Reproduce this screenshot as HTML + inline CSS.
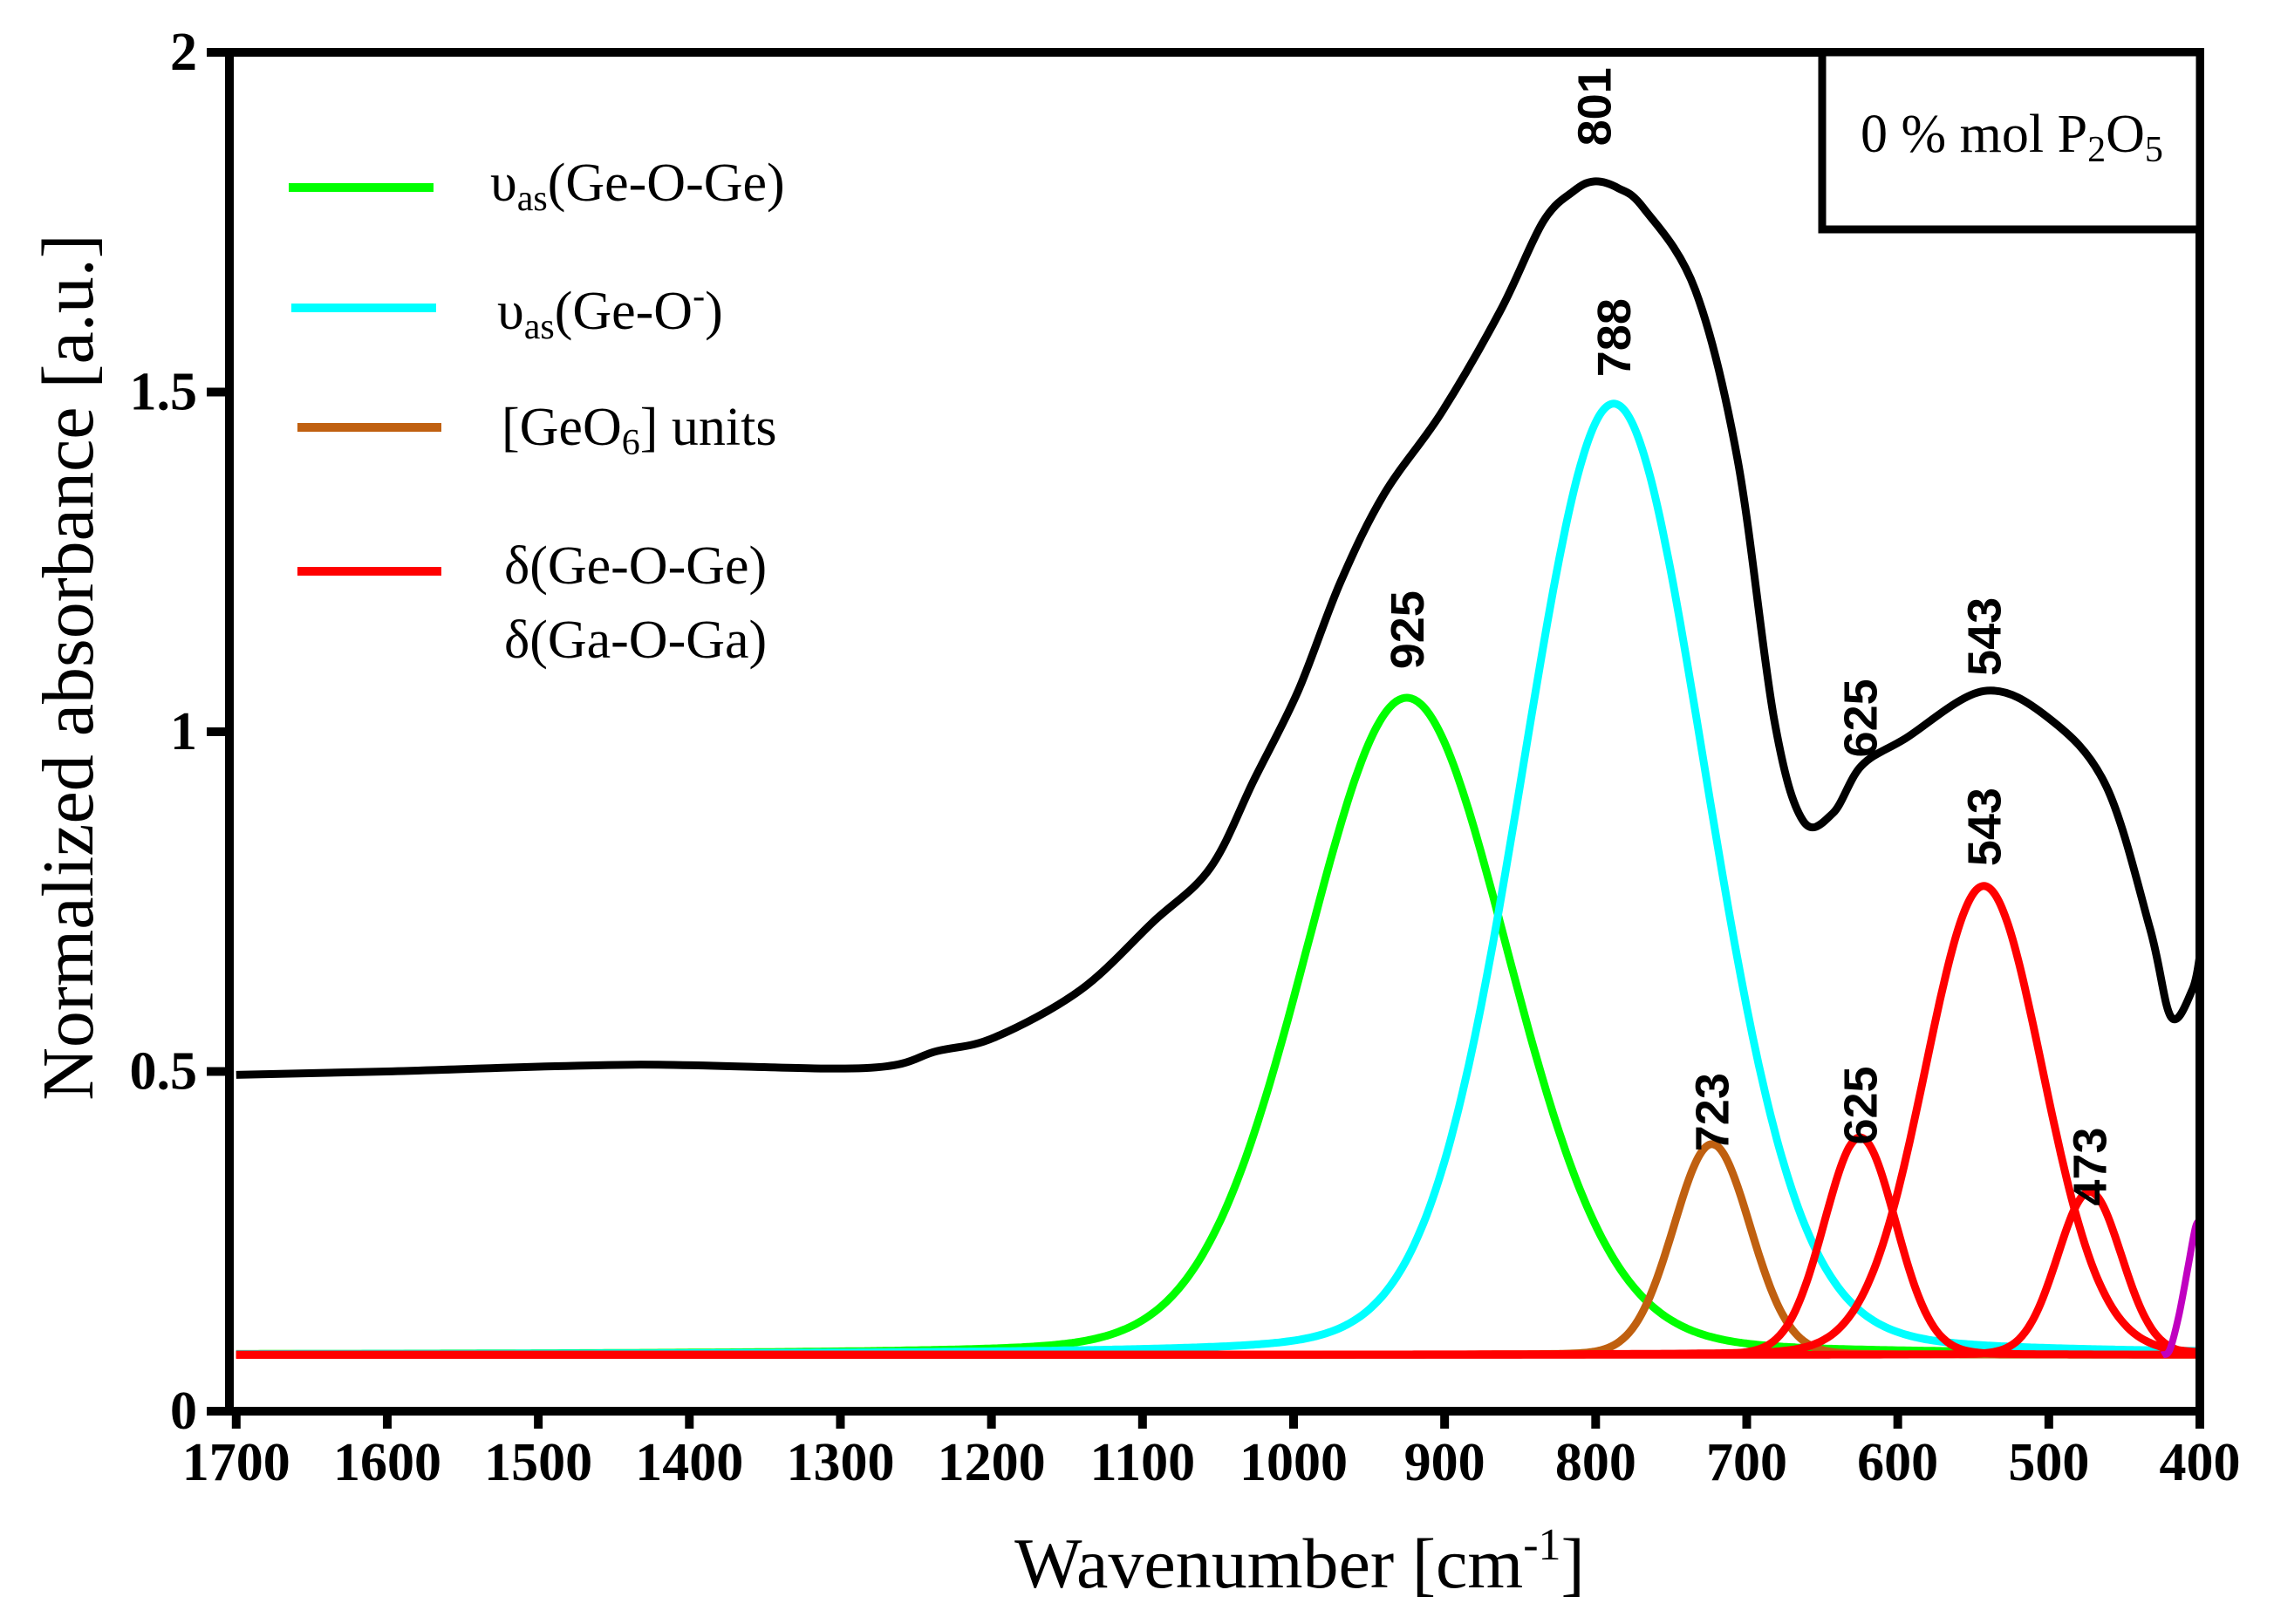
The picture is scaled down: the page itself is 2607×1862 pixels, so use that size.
<!DOCTYPE html>
<html><head><meta charset="utf-8"><style>
html,body{margin:0;padding:0;background:#fff;}
svg{display:block;}
.tick{font-family:"Liberation Serif",serif;font-weight:bold;font-size:62px;fill:#000;}
.pk{font-family:"Liberation Sans",sans-serif;font-weight:bold;font-size:54px;fill:#000;}
.leg{font-family:"Liberation Serif",serif;font-size:62px;fill:#000;}
</style></head><body>
<svg id="chart" width="2607" height="1862" viewBox="0 0 2607 1862" xmlns="http://www.w3.org/2000/svg">
<rect width="2607" height="1862" fill="#fff"/>
<g id="series"></g>
<g id="axes"></g>
<g id="labels"></g>
<g>
  <line x1="331" y1="215" x2="497" y2="215" stroke="#00ff00" stroke-width="10"/>
  <text class="leg" x="562" y="230">υ<tspan font-size="42" dy="11">as</tspan><tspan dy="-11">(Ge-O-Ge)</tspan></text>
  <line x1="334" y1="353" x2="500" y2="353" stroke="#00ffff" stroke-width="10"/>
  <text class="leg" x="570" y="377">υ<tspan font-size="42" dy="11">as</tspan><tspan dy="-11">(Ge-O</tspan><tspan font-size="42" dy="-24">-</tspan><tspan dy="24">)</tspan></text>
  <line x1="341" y1="490" x2="506" y2="490" stroke="#c06010" stroke-width="10"/>
  <text class="leg" x="575" y="510">[GeO<tspan font-size="42" dy="11">6</tspan><tspan dy="-11">] units</tspan></text>
  <line x1="341" y1="655" x2="506" y2="655" stroke="#ff0000" stroke-width="10"/>
  <text class="leg" x="578" y="669">δ(Ge-O-Ge)</text>
  <text class="leg" x="578" y="754">δ(Ga-O-Ga)</text>
</g>
<g>
  <rect x="2089" y="60" width="433" height="203" fill="#fff" stroke="#000" stroke-width="9"/>
  <text class="leg" x="2133" y="174">0 % mol P<tspan font-size="42" dy="11">2</tspan><tspan dy="-11">O</tspan><tspan font-size="42" dy="11">5</tspan></text>
</g>
<text x="1490" y="1820" text-anchor="middle" font-family="Liberation Serif, serif" font-size="82">Wavenumber [cm<tspan font-size="52" dy="-32">-1</tspan><tspan dy="32">]</tspan></text>
<text transform="translate(106,765) rotate(-90)" text-anchor="middle" font-family="Liberation Serif, serif" font-size="84">Normalized absorbance [a.u.]</text>
</svg>
<script>
const NS='http://www.w3.org/2000/svg';
// ---- data ----
const xTicks=[1700,1600,1500,1400,1300,1200,1100,1000,900,800,700,600,500,400];
const yTicks=[0,0.5,1,1.5,2];
const yTickLabels=['0','0.5','1','1.5','2'];
const measuredWavenumber=[1700,1600,1437,1284,1236,1198,1141,1093,1055,1026,997,969,940,902,863,835,815,801,785,768,734,706,682,663,643,624,595,543,500,462,433,419,405,400];
const measuredAbsorbance=[0.495,0.50,0.51,0.505,0.53,0.55,0.62,0.72,0.80,0.93,1.06,1.22,1.35,1.47,1.62,1.75,1.795,1.81,1.80,1.77,1.65,1.40,1.02,0.87,0.88,0.95,0.99,1.06,1.02,0.92,0.71,0.58,0.62,0.67];
const peakNames=['ge-o-ge','ge-o','geo6','delta-625','delta-543','delta-473'];
const peakColors=['#00ff00','#00ffff','#c06010','#ff0000','#ff0000','#ff0000'];
const peakCenters=[925,788,723,625,543,473];
const peakHeights=[0.967,1.40,0.31,0.32,0.69,0.24];
const peakFWHM=[160,145,60,56,92,50];
const peakLorentzFrac=[0.12,0.12,0.05,0.05,0.05,0.05];
const baseline=0.083;
const magentaWavenumber=[425,420,414,408,403,400];
const magentaAbsorbance=[0.083,0.09,0.14,0.21,0.27,0.28];
const labelValues=['801','788','925','625','543','723','625','543','473'];
const labelWavenumber=[801,788,925,625,543,723,625,543,473];
const labelAbsorbance=[1.92,1.58,1.15,1.02,1.14,0.44,0.45,0.86,0.36];
// ---- scales ----
const X0=2522,KX=1.7317,Y0=1618,KY=779;
function x(v){return X0-(v-400)*KX;}
function y(v){return Y0-v*KY;}
function el(tag,attrs,parent){const e=document.createElementNS(NS,tag);for(const k in attrs)e.setAttribute(k,attrs[k]);parent.appendChild(e);return e;}
function smoothPath(pts){
  let d='M'+pts[0][0].toFixed(1)+','+pts[0][1].toFixed(1);
  for(let i=0;i<pts.length-1;i++){
    const p0=pts[Math.max(0,i-1)],p1=pts[i],p2=pts[i+1],p3=pts[Math.min(pts.length-1,i+2)];
    const c1=[p1[0]+(p2[0]-p0[0])/6,p1[1]+(p2[1]-p0[1])/6];
    const c2=[p2[0]-(p3[0]-p1[0])/6,p2[1]-(p3[1]-p1[1])/6];
    d+='C'+c1[0].toFixed(1)+','+c1[1].toFixed(1)+' '+c2[0].toFixed(1)+','+c2[1].toFixed(1)+' '+p2[0].toFixed(1)+','+p2[1].toFixed(1);
  }
  return d;
}
const series=document.getElementById('series');
for(let i=0;i<peakCenters.length;i++){
  const pts=[];
  const s=peakFWHM[i]/2.3548, g=peakFWHM[i]/2;
  for(let v=1700;v>=400;v-=4){
    const dv=v-peakCenters[i];
    const G=Math.exp(-dv*dv/(2*s*s)), L=1/(1+(dv/g)*(dv/g));
    const val=baseline+peakHeights[i]*((1-peakLorentzFrac[i])*G+peakLorentzFrac[i]*L);
    pts.push([x(v),y(val)]);
  }
  const p=el('path',{d:smoothPath(pts),fill:'none',stroke:peakColors[i],'stroke-width':9,'stroke-linejoin':'round'},series);
  
  
}
const mp=el('path',{d:smoothPath(magentaWavenumber.map((v,i)=>[x(v),y(magentaAbsorbance[i])])),fill:'none',stroke:'#c000c0','stroke-width':8},series);


const bp=el('path',{d:smoothPath(measuredWavenumber.map((v,i)=>[x(v),y(measuredAbsorbance[i])])),fill:'none',stroke:'#000','stroke-width':9,'stroke-linejoin':'round'},series);


const axes=document.getElementById('axes');
const frame=el('rect',{x:263,y:60,width:2522-263,height:1618-60,fill:'none',stroke:'#000','stroke-width':10},axes);


xTicks.forEach((t,i)=>{
  const tk=el('line',{x1:x(t),y1:1618,x2:x(t),y2:1638,stroke:'#000','stroke-width':10},axes);
  
  
  const lb=el('text',{x:x(t),y:1697,'text-anchor':'middle',class:'tick'},axes);
  lb.textContent=String(t);
  
  
});
yTicks.forEach((t,i)=>{
  const tk=el('line',{x1:237,y1:y(t),x2:263,y2:y(t),stroke:'#000','stroke-width':10},axes);
  
  
  const lb=el('text',{x:226,y:y(t)+20,'text-anchor':'end',class:'tick'},axes);
  lb.textContent=yTickLabels[i];
  
  
});
const labels=document.getElementById('labels');
labelValues.forEach((s,i)=>{
  const cx=x(labelWavenumber[i]),cy=y(labelAbsorbance[i]);
  const t=el('text',{class:'pk',transform:'translate('+(cx+19).toFixed(1)+','+cy.toFixed(1)+') rotate(-90)','text-anchor':'middle'},labels);
  t.textContent=s;
  
  
});
</script>
</body></html>
